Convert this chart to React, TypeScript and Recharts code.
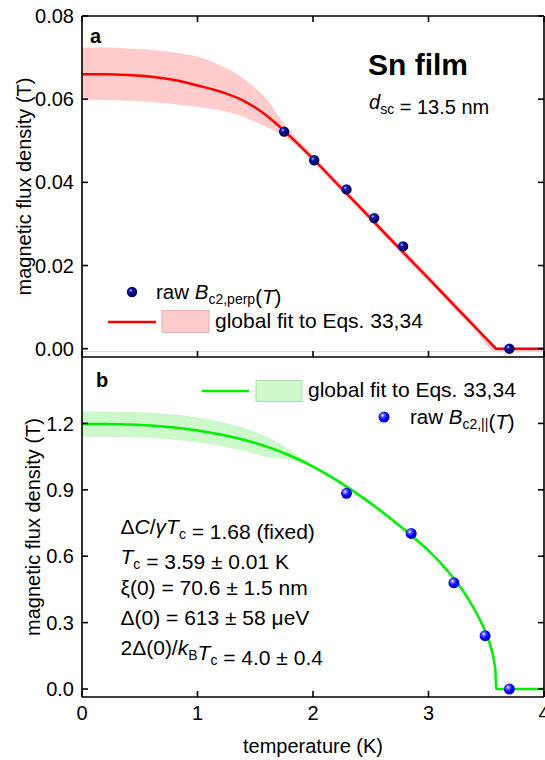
import React from 'react';
import { ComposedChart, Line, Area, Scatter, XAxis, YAxis, ReferenceLine } from 'recharts';

const FONT = '"Liberation Sans", Arial, Helvetica, sans-serif';

// ---------- panel a: perpendicular critical field ----------
const perpT = [1.75, 2.01, 2.29, 2.53, 2.78, 3.7];
const perpB = [0.0522, 0.0453, 0.0383, 0.0314, 0.0246, 0.0];

const perpFitT = [0, 0.2, 0.4, 0.6, 0.8, 1.0, 1.2, 1.4, 1.5, 1.6, 1.75, 1.8, 2.0, 2.2, 2.4, 2.6, 2.8, 3.0, 3.2, 3.4, 3.585, 3.8, 4.0];
const perpFitB = [0.066, 0.066, 0.0658, 0.0654, 0.0646, 0.0633, 0.0618, 0.0596, 0.058, 0.056, 0.0524, 0.0511, 0.0457, 0.0399, 0.0342, 0.0284, 0.0226, 0.0169, 0.0111, 0.0053, 0, 0, 0];
const perpBandHi = [0.0724, 0.0724, 0.0722, 0.0719, 0.0712, 0.0702, 0.0681, 0.065, 0.0626, 0.06, 0.054, 0.0524, 0.0465, 0.0407, 0.035, 0.0292, 0.0234, 0.0177, 0.0119, 0.0061, 0.0004, 0.0003, 0.0003];
const perpBandLo = [0.0599, 0.0598, 0.0596, 0.0593, 0.0588, 0.0582, 0.0573, 0.0558, 0.0546, 0.0533, 0.051, 0.05, 0.0449, 0.0391, 0.0334, 0.0276, 0.0218, 0.0161, 0.0103, 0.0045, -0.0007, -0.0007, -0.0007];
const perpTicks = [0, 0.02, 0.04, 0.06, 0.08];
const perpSplitT = 2.0; // curved part drawn smooth, straight segment to Tc drawn linear

// ---------- panel b: parallel critical field ----------
const parT = [2.29, 2.85, 3.22, 3.49, 3.7];
const parB = [0.884, 0.703, 0.48, 0.241, 0.0];

const parFitT = [0, 0.2, 0.4, 0.6, 0.8, 1.0, 1.2, 1.4, 1.6, 1.8, 2.0, 2.2, 2.4, 2.6, 2.8, 3.0, 3.2, 3.3, 3.4, 3.45, 3.5, 3.55, 3.57, 3.58, 3.585, 3.6, 3.8, 4.0];
const parFitB = [1.197, 1.197, 1.195, 1.19, 1.181, 1.168, 1.15, 1.126, 1.095, 1.055, 1.005, 0.945, 0.876, 0.8, 0.716, 0.625, 0.512, 0.443, 0.358, 0.308, 0.25, 0.17, 0.118, 0.075, 0, 0, 0, 0];
const parBandHi = [1.254, 1.254, 1.252, 1.248, 1.24, 1.227, 1.208, 1.18, 1.14, 1.08, 1.012, 0.953, 0.884, 0.808, 0.724, 0.633, 0.52, 0.451, 0.366, 0.318, 0.262, 0.185, 0.15, 0.125, 0.11, 0.0, 0.004, 0.004];
const parBandLo = [1.14, 1.14, 1.138, 1.134, 1.126, 1.114, 1.098, 1.075, 1.048, 1.035, 0.998, 0.937, 0.868, 0.792, 0.708, 0.617, 0.504, 0.435, 0.35, 0.3, 0.24, 0.155, 0.09, 0.03, 0, -0.004, -0.004, -0.004];
const parTicks = [0, 0.3, 0.6, 0.9, 1.2];

const tempTicks = [0, 1, 2, 3, 4];

const perpPoints = perpT.map((t, i) => ({ t, b: perpB[i] }));
const perpFit = perpFitT.map((t, i) => ({ t, b: perpFitB[i], band: [perpBandLo[i], perpBandHi[i]] }));
const perpFitCurve = perpFit.filter((d) => d.t <= perpSplitT);
const perpFitTail = perpFit.filter((d) => d.t >= perpSplitT);
const parPoints = parT.map((t, i) => ({ t, b: parB[i] }));
const parFit = parFitT.map((t, i) => ({ t, b: parFitB[i], band: [parBandLo[i], parBandHi[i]] }));

const axisStyle = { stroke: '#000', strokeWidth: 1.6 };
const tickFont = { fill: '#000', fontSize: 20, fontFamily: FONT };
const NoTick = () => null;

const NavyBall = (p: any) => <circle cx={p.cx} cy={p.cy} r={5.2} fill="url(#navyBall)" />;
const BlueBall = (p: any) => <circle cx={p.cx} cy={p.cy} r={5.5} fill="url(#blueBall)" />;

const sub = (s: string) => (
  <>
    <tspan fontSize={14} dy={5}>{s}</tspan>
    <tspan dy={-5}>{''}</tspan>
  </>
);

export default function App() {
  return (
    <div style={{ position: 'absolute', left: 0, top: 0, width: 545, height: 760, background: '#fff', fontFamily: FONT }}>
      <div style={{ position: 'absolute', left: 0, top: 0 }}>
        <ComposedChart width={545} height={372} margin={{ top: 0, right: 0, bottom: 0, left: 0 }}>
          <XAxis xAxisId="b" dataKey="t" type="number" domain={[0, 4]} ticks={tempTicks} interval={0} tickSize={-6} tick={NoTick} height={15} axisLine={axisStyle} tickLine={axisStyle} allowDataOverflow />
          <XAxis xAxisId="t" orientation="top" dataKey="t" type="number" domain={[0, 4]} ticks={tempTicks} interval={0} tickSize={-6} tick={NoTick} height={16} axisLine={axisStyle} tickLine={axisStyle} allowDataOverflow />
          <YAxis yAxisId="l" type="number" domain={[-0.002, 0.08]} ticks={perpTicks} interval={0} tickSize={-6} tickMargin={14} width={82} tickFormatter={(v: number) => v.toFixed(2)} tick={tickFont} axisLine={axisStyle} tickLine={axisStyle} allowDataOverflow />
          <YAxis yAxisId="r" orientation="right" type="number" domain={[-0.002, 0.08]} ticks={perpTicks} interval={0} tickSize={-6} width={1} tick={NoTick} axisLine={axisStyle} tickLine={axisStyle} allowDataOverflow />
          <ReferenceLine xAxisId="b" yAxisId="l" y={-0.0007} stroke="#ffcccc" strokeWidth={1} />
          <Area xAxisId="b" yAxisId="l" data={perpFit} dataKey="band" type="monotone" fill="#ffcccc" fillOpacity={1} stroke="none" isAnimationActive={false} />
          <Line xAxisId="b" yAxisId="l" data={perpFitCurve} dataKey="b" type="monotone" stroke="#ff0000" strokeWidth={2.5} dot={false} isAnimationActive={false} />
          <Line xAxisId="b" yAxisId="l" data={perpFitTail} dataKey="b" type="linear" stroke="#ff0000" strokeWidth={2.5} dot={false} isAnimationActive={false} />
          <Scatter xAxisId="b" yAxisId="l" data={perpPoints} dataKey="b" shape={NavyBall} isAnimationActive={false} />
        </ComposedChart>
      </div>
      <div style={{ position: 'absolute', left: 0, top: 357 }}>
        <ComposedChart width={545} height={403} margin={{ top: 0, right: 0, bottom: 0, left: 0 }}>
          <XAxis xAxisId="b" dataKey="t" type="number" domain={[0, 4]} ticks={tempTicks} interval={0} tickSize={-6} tickMargin={15} tick={tickFont} height={63} axisLine={axisStyle} tickLine={axisStyle} allowDataOverflow />
          <YAxis yAxisId="l" type="number" domain={[-0.036, 1.5]} ticks={parTicks} interval={0} tickSize={-6} tickMargin={14} width={82} tickFormatter={(v: number) => v.toFixed(1)} tick={tickFont} axisLine={axisStyle} tickLine={axisStyle} allowDataOverflow />
          <YAxis yAxisId="r" orientation="right" type="number" domain={[-0.036, 1.5]} ticks={parTicks} interval={0} tickSize={-6} width={1} tick={NoTick} axisLine={axisStyle} tickLine={axisStyle} allowDataOverflow />
          <Area xAxisId="b" yAxisId="l" data={parFit} dataKey="band" type="monotone" fill="#ccf8cc" fillOpacity={1} stroke="none" isAnimationActive={false} />
          <Line xAxisId="b" yAxisId="l" data={parFit} dataKey="b" type="monotone" stroke="#00ee00" strokeWidth={2.5} dot={false} isAnimationActive={false} />
          <Scatter xAxisId="b" yAxisId="l" data={parPoints} dataKey="b" shape={BlueBall} isAnimationActive={false} />
        </ComposedChart>
      </div>
      <svg width={545} height={760} style={{ position: 'absolute', left: 0, top: 0, pointerEvents: 'none' }} fontFamily={FONT} fill="#000">
        <defs>
          <radialGradient id="navyBall" cx="38%" cy="35%" r="65%">
            <stop offset="0%" stopColor="#b0b0ff" />
            <stop offset="30%" stopColor="#1010a0" />
            <stop offset="100%" stopColor="#000050" />
          </radialGradient>
          <radialGradient id="blueBall" cx="38%" cy="35%" r="65%">
            <stop offset="0%" stopColor="#ffffff" />
            <stop offset="25%" stopColor="#6060ff" />
            <stop offset="60%" stopColor="#0000ff" />
            <stop offset="100%" stopColor="#0000b0" />
          </radialGradient>
        </defs>

        {/* axis titles */}
        <text transform="translate(31,186.5) rotate(-90)" textAnchor="middle" fontSize={20}>magnetic flux density (T)</text>
        <text transform="translate(40,527) rotate(-90)" textAnchor="middle" fontSize={20}>magnetic flux density (T)</text>
        <text x={313} y={752.5} textAnchor="middle" fontSize={20}>temperature (K)</text>

        {/* panel a annotations */}
        <text x={90} y={43} fontSize={20} fontWeight="bold">a</text>
        <text x={368} y={75} fontSize={30} fontWeight="bold">Sn film</text>
        <text x={369} y={108.5} fontSize={20}>
          <tspan fontStyle="italic">d</tspan>
          {sub('sc')}
          <tspan>{' = 13.5 nm'}</tspan>
        </text>

        {/* panel a legend */}
        <circle cx={132} cy={292} r={5.2} fill="url(#navyBall)" />
        <text x={156} y={299} fontSize={20.5}>
          <tspan>{'raw '}</tspan>
          <tspan fontStyle="italic">B</tspan>
          {sub('c2,perp')}
          <tspan>(</tspan>
          <tspan fontStyle="italic">T</tspan>
          <tspan>)</tspan>
        </text>
        <line x1={108} x2={156} y1={322} y2={322} stroke="#ff0000" strokeWidth={2.5} />
        <rect x={162} y={310.5} width={47} height={22} fill="#ffcccc" stroke="#e4b0b0" strokeWidth={1} />
        <text x={215} y={327.5} fontSize={21}>global fit to Eqs. 33,34</text>

        {/* panel b annotations */}
        <text x={96} y={387} fontSize={20} fontWeight="bold">b</text>
        <line x1={202} x2={249} y1={391} y2={391} stroke="#00ee00" strokeWidth={2.5} />
        <rect x={256} y={380.5} width={46} height={21} fill="#ccf8cc" stroke="#b4dcb4" strokeWidth={1} />
        <text x={308} y={397} fontSize={21}>global fit to Eqs. 33,34</text>
        <circle cx={384} cy={417} r={5.5} fill="url(#blueBall)" />
        <text x={410} y={424} fontSize={20.5}>
          <tspan>{'raw '}</tspan>
          <tspan fontStyle="italic">B</tspan>
          {sub('c2,||')}
          <tspan>(</tspan>
          <tspan fontStyle="italic">T</tspan>
          <tspan>)</tspan>
        </text>

        <g fontSize={21}>
          <text x={120.5} y={534}>
            <tspan>Δ</tspan>
            <tspan fontStyle="italic">C</tspan>
            <tspan>/</tspan>
            <tspan fontStyle="italic">γT</tspan>
            {sub('c')}
            <tspan>{' = 1.68 (fixed)'}</tspan>
          </text>
          <text x={120.5} y={564.3}>
            <tspan fontStyle="italic">T</tspan>
            {sub('c')}
            <tspan>{' = 3.59 ± 0.01 K'}</tspan>
          </text>
          <text x={120.5} y={594.6}>ξ(0) = 70.6 ± 1.5 nm</text>
          <text x={120.5} y={624.9}>Δ(0) = 613 ± 58 μeV</text>
          <text x={120.5} y={655.2}>
            <tspan>2Δ(0)/</tspan>
            <tspan fontStyle="italic">k</tspan>
            {sub('B')}
            <tspan fontStyle="italic">T</tspan>
            {sub('c')}
            <tspan>{' = 4.0 ± 0.4'}</tspan>
          </text>
        </g>
      </svg>
    </div>
  );
}
